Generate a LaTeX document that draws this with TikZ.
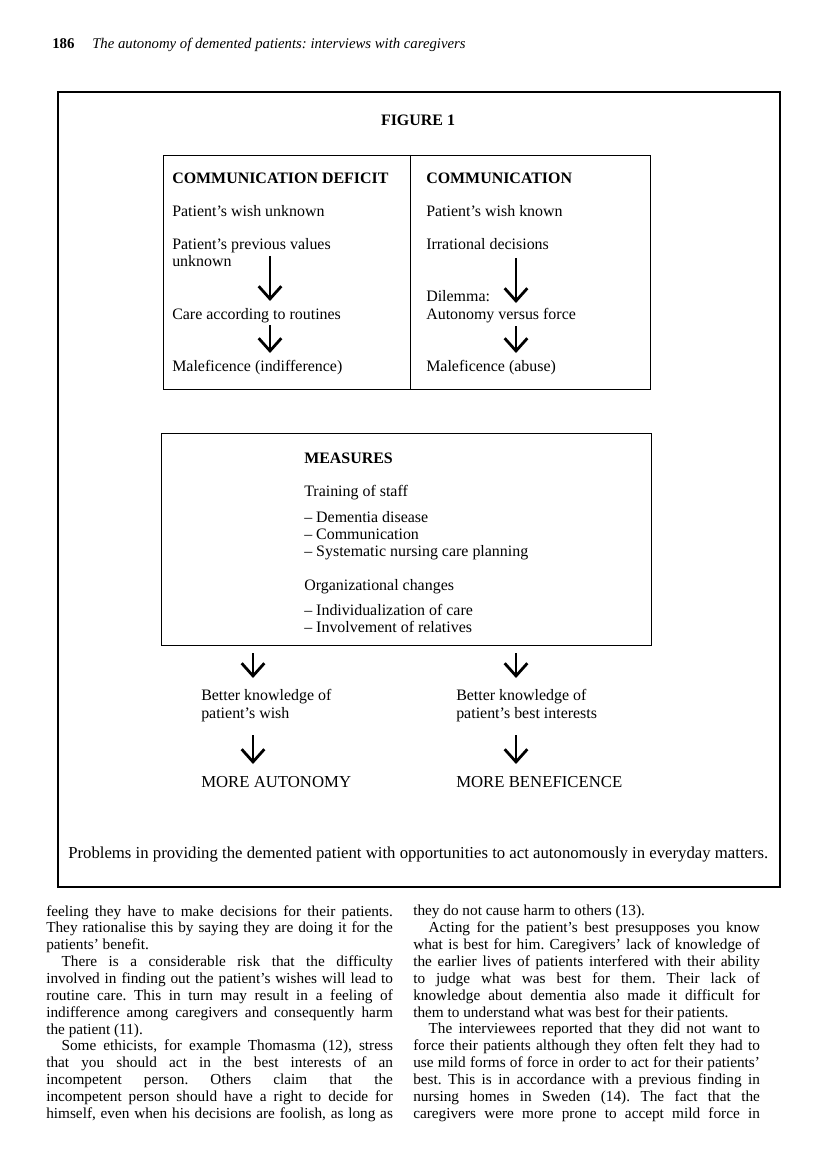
\documentclass[tikz,border=0pt]{standalone}
\usepackage{fontspec}
\setmainfont{Liberation Serif}
\usepackage{tikz}
\usetikzlibrary{arrows.meta,positioning,calc}
\frenchspacing

\begin{document}
\begin{tikzpicture}[x=0.75bp,y=-0.75bp,
  t/.style={anchor=base west,inner sep=0pt,font=\fontsize{12}{13.5}\selectfont},
  hd/.style={t,font=\fontsize{12}{13.5}\selectfont\bfseries},
  big/.style={t,font=\fontsize{12.6}{14}\selectfont},
  dn/.style={line width=2.1bp,-{Straight Barb[length=9.5bp,width=17bp]}},
  col/.style={anchor=north west,inner sep=0pt,text width=260bp,align=justify,font=\fontsize{11.5}{12.7}\selectfont}]
\useasboundingbox (0,0) rectangle (816,1163);
\fill[white] (0,0) rectangle (816,1163);
% running head
\node[t,font=\fontsize{11.2}{13}\selectfont\bfseries] (pg) at (52,49) {186};
\node[t,font=\fontsize{11.1}{13}\selectfont\itshape] (rh) at (92,49) {The autonomy of demented patients: interviews with caregivers};
% frames
\draw[line width=0.8bp] (58,92) rectangle (780,887);
\draw[line width=0.7bp] (163,155) rectangle (650,389);
\draw[line width=0.7bp] (410,155) -- (410,389);
\draw[line width=0.7bp] (161,433) rectangle (651,645);
\node[hd,anchor=base] (fig) at (418,126) {FIGURE 1};
% communication deficit
\node[hd] (cd) at (172,184) {COMMUNICATION DEFICIT};
\node[t] (wu) at (172,217) {Patient’s wish unknown};
\node[t] (pv) at (172,250) {Patient’s previous values};
\node[t] (pv2) at (172,267) {unknown};
\node[t] (cr) at (172,319) {Care according to routines};
\node[t] (mi) at (172,371) {Maleficence (indifference)};
% communication
\node[hd] (cm) at (426,184) {COMMUNICATION};
\node[t] (wk) at (426,217) {Patient’s wish known};
\node[t] (ir) at (426,250) {Irrational decisions};
\node[t] (di) at (426,302) {Dilemma:};
\node[t] (af) at (426,319) {Autonomy versus force};
\node[t] (ma) at (426,371) {Maleficence (abuse)};
% measures
\node[hd] (ms) at (304,463) {MEASURES};
\node[t] (tr) at (304,496) {Training of staff};
\node[t] (m1) at (304,522) {– Dementia disease};
\node[t] (m2) at (304,539) {– Communication};
\node[t] (m3) at (304,556) {– Systematic nursing care planning};
\node[t] (og) at (304,590) {Organizational changes};
\node[t] (m4) at (304,615) {– Individualization of care};
\node[t] (m5) at (304,632) {– Involvement of relatives};
% outcomes
\node[t] (bw) at (201,700) {Better knowledge of};
\node[t] (bw2) at (201,718) {patient’s wish};
\node[t] (bi) at (456,700) {Better knowledge of};
\node[t] (bi2) at (456,718) {patient’s best interests};
\node[big] (au) at (201,787) {MORE AUTONOMY};
\node[big] (be) at (456,787) {MORE BENEFICENCE};
\node[big] (cap) at (68,858) {Problems in providing the demented patient with opportunities to act autonomously in everyday matters.};
% arrows
\coordinate (l1a) at (270,256); \coordinate (l1b) at (270,301);
\coordinate (l2a) at (270,325); \coordinate (l2b) at (270,353);
\coordinate (r1a) at (516,258); \coordinate (r1b) at (516,303);
\coordinate (r2a) at (516,326); \coordinate (r2b) at (516,353);
\coordinate (l3a) at (253,653); \coordinate (l3b) at (253,678);
\coordinate (r3a) at (516,653); \coordinate (r3b) at (516,678);
\coordinate (l4a) at (253,735); \coordinate (l4b) at (253,764);
\coordinate (r4a) at (516,735); \coordinate (r4b) at (516,764);
\foreach \a in {l1,l2,r1,r2,l3,r3,l4,r4}
  \draw[dn] (\a a) -- (\a b);
% body text
\node[col] (c1) at (46,905) {feeling they have to make decisions for their patients.\linebreak
They rationalise this by saying they are doing it for the\linebreak
patients’ benefit.\par
\hspace*{1em}There is a considerable risk that the difficulty\linebreak
involved in finding out the patient’s wishes will lead to\linebreak
routine care. This in turn may result in a feeling of\linebreak
indifference among caregivers and consequently harm\linebreak
the patient (11).\par
\hspace*{1em}Some ethicists, for example Thomasma (12), stress\linebreak
that you should act in the best interests of an\linebreak
incompetent person. Others claim that the\linebreak
incompetent person should have a right to decide for\linebreak
himself, even when his decisions are foolish, as long as\parfillskip=0pt\par};
\node[col] (c2) at (413,905) {they do not cause harm to others (13).\par
\hspace*{1em}Acting for the patient’s best presupposes you know\linebreak
what is best for him. Caregivers’ lack of knowledge of\linebreak
the earlier lives of patients interfered with their ability\linebreak
to judge what was best for them. Their lack of\linebreak
knowledge about dementia also made it difficult for\linebreak
them to understand what was best for their patients.\par
\hspace*{1em}The interviewees reported that they did not want to\linebreak
force their patients although they often felt they had to\linebreak
use mild forms of force in order to act for their patients’\linebreak
best. This is in accordance with a previous finding in\linebreak
nursing homes in Sweden (14). The fact that the\linebreak
caregivers were more prone to accept mild force in\parfillskip=0pt\par};
\end{tikzpicture}
\end{document}
